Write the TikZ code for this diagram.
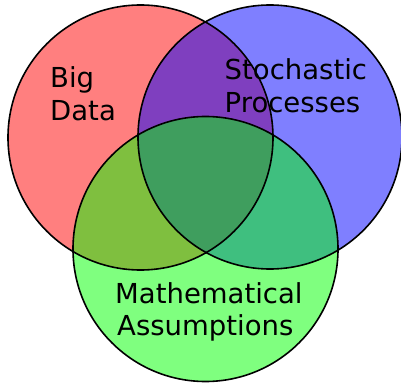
\documentclass[tikz,border=0pt]{standalone}
\usepackage{fontspec}
\setmainfont{DejaVu Sans}
\begin{document}
\begin{tikzpicture}[x=1pt,y=1pt,
  setfill/.style={fill opacity=0.5},
  outline/.style={draw=black,line width=1.6pt},
  lbl/.style={anchor=base west,inner sep=0pt,font=\fontsize{27.5}{33}\selectfont}]
\useasboundingbox (0,0) rectangle (401,383);
\coordinate (cr) at (140.5,245.5);
\coordinate (cb) at (270,246);
\coordinate (cg) at (205.5,134);
\fill[red,setfill] (cr) circle[radius=132.5];
\fill[blue,setfill] (cb) circle[radius=132];
\fill[green,setfill] (cg) circle[radius=132.5];
\draw[outline] (cr) circle[radius=132.5];
\draw[outline] (cb) circle[radius=132];
\draw[outline] (cg) circle[radius=132.5];
\node[lbl] (big) at (50,295) {Big};
\node[lbl] (data) at (50,262) {Data};
\node[lbl] (sto) at (224.5,303) {Stochastic};
\node[lbl] (proc) at (224.5,270) {Processes};
\node[lbl] (math) at (115,80) {Mathematical};
\node[lbl] (ass) at (117,48) {Assumptions};
\end{tikzpicture}
\end{document}
